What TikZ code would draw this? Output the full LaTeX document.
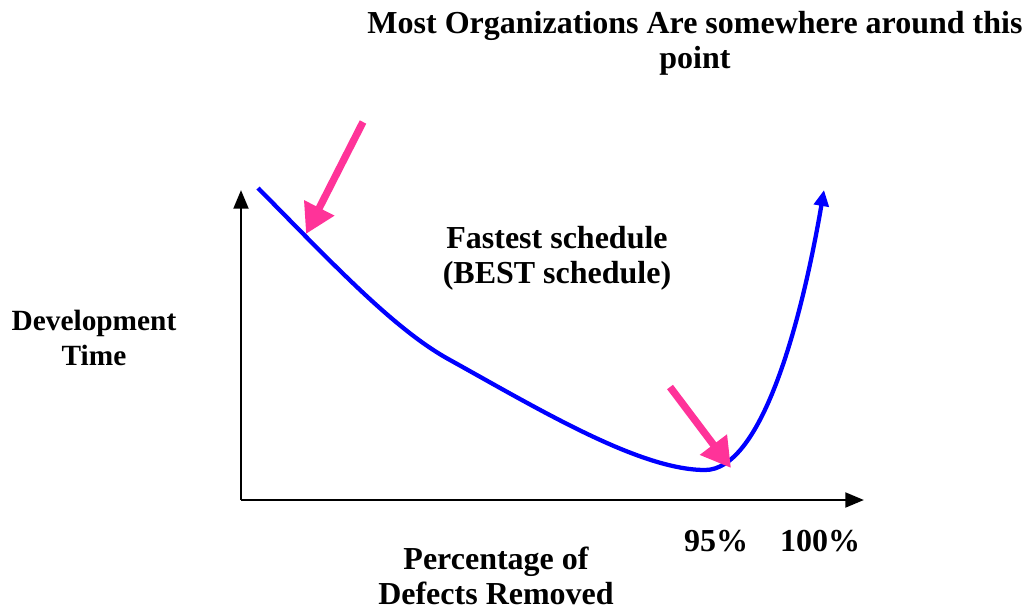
\documentclass[tikz,border=0pt]{standalone}
\usepackage{fontspec}
\setmainfont{Liberation Serif}
\usetikzlibrary{arrows.meta}
\definecolor{hotpink}{RGB}{255,51,153}
\tikzset{
  lbl/.style={align=center, inner sep=0.75pt, font=\fontsize{24}{26.5}\selectfont\bfseries},
  axis/.style={line width=2.2pt, -{Triangle[length=14pt,width=11pt]}},
  pointer/.style={hotpink, line width=5.5pt, -{Triangle[length=22pt,width=24pt]}}
}
\begin{document}
\begin{tikzpicture}[x=0.75pt,y=0.75pt,yscale=-1,xscale=1]
\useasboundingbox (0,0) rectangle (1031,611);

%Axes
\coordinate (origin) at (241,500);
\coordinate (ytip) at (241,190);
\coordinate (xtip) at (864,500);
\draw [axis] (origin) -- (ytip) ;
\draw [axis] (origin) -- (xtip) ;

%Curve
\coordinate (start) at (258,188);
\coordinate (bend) at (450,360);
\coordinate (bottom) at (705,470);
\coordinate (top) at (824,190);
\draw [blue, line width=3.2pt, -{Triangle[length=12pt,width=11pt]}] (start) .. controls (335,266) and (395,330) .. (bend) .. controls (540,410) and (640,470) .. (bottom) .. controls (760,470) and (800,330) .. (top) ;

%Pointers
\coordinate (p1) at (363,122);
\coordinate (q1) at (306,234);
\coordinate (p2) at (670,387);
\coordinate (q2) at (731,468);
\draw [pointer] (p1) -- (q1) ;
\draw [pointer] (p2) -- (q2) ;

% Text Nodes
\node (title) [lbl] at (695,43) {Most Organizations Are somewhere around this\\point};
\node (best) [lbl] at (557,258) {Fastest schedule\\(BEST schedule)};
\node (ylabel) [lbl, font=\fontsize{22}{26.5}\selectfont\bfseries] at (94,338) {Development\\Time};
\node (xlabel) [lbl] at (496,576) {Percentage of\\Defects Removed};
\node (p95) [lbl] at (716,541) {95\%};
\node (p100) [lbl] at (820,541) {100\%};

\end{tikzpicture}
\end{document}
